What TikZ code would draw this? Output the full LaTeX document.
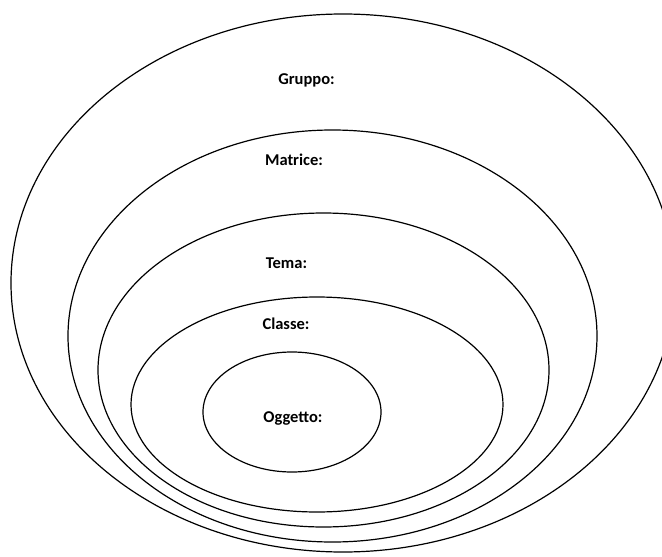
\documentclass[tikz,border=0pt]{standalone}
\usepackage{fontspec}
\setmainfont{Carlito}
\usepackage{tikz}
\usetikzlibrary{positioning}
\tikzset{ring/.style = {line width=1.2pt}}
\tikzset{tag/.style = {font=\fontsize{16.5}{19}\selectfont\bfseries}}

\begin{document}
\begin{tikzpicture}[x=1pt, y=-1pt]
      \useasboundingbox (0, 0) rectangle (662, 557);
      \clip (0, 0) rectangle (662, 557);
      \draw [ring] (343, 283) ellipse (332 and 269);
      \draw [ring] (332.5, 336) ellipse (264.5 and 206);
      \draw [ring] (323.5, 370) ellipse (225.5 and 157);
      \draw [ring] (317, 404.5) ellipse (186 and 107.5);
      \draw [ring] (292, 412) ellipse (89 and 60);
      \node [tag] (gruppo) at (306.5, 80) {Gruppo:};
      \node [tag] (matrice) at (294, 160) {Matrice:};
      \node [tag] (tema) at (286.5, 263) {Tema:};
      \node [tag] (classe) at (286, 324) {Classe:};
      \node [tag] (oggetto) at (293, 418) {Oggetto:};
    \end{tikzpicture}
\end{document}
